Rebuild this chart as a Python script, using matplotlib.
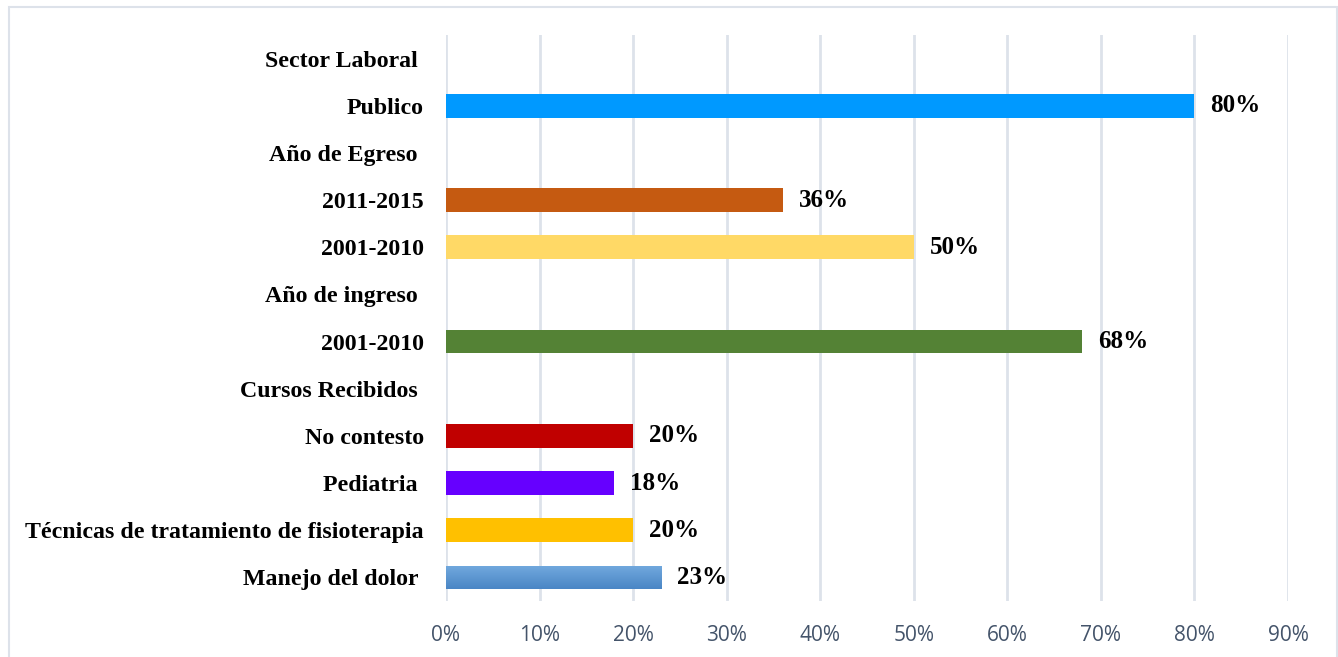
import matplotlib.pyplot as plt
from matplotlib.patches import Rectangle
from matplotlib.colors import LinearSegmentedColormap
import numpy as np

# rows top to bottom
labels = ["Sector Laboral ", "Publico", "Año de Egreso ", "2011-2015", "2001-2010",
          "Año de ingreso ", "2001-2010", "Cursos Recibidos ", "No contesto", "Pediatria ",
          "Técnicas de tratamiento de fisioterapia", "Manejo del dolor "]
values = [None, 0.80, None, 0.36, 0.50, None, 0.68, None, 0.20, 0.18, 0.20, 0.23]
colors = [None, "#0099FF", None, "#C55A11", "#FFD966", None, "#548235", None,
          "#C00000", "#6600FF", "#FFC000", "gradient"]
xticks = [0, 0.1, 0.2, 0.3, 0.4, 0.5, 0.6, 0.7, 0.8, 0.9]

W, H = 1338, 657
fig = plt.figure(figsize=(W / 100, H / 100), dpi=100)
ax = fig.add_axes([446 / W, 1 - 601 / H, (1288 - 446) / W, (601 - 35) / H])

grad = LinearSegmentedColormap.from_list("g", ["#4A86C5", "#72A9DE"])
n = len(labels)
ypos = np.arange(n)[::-1]
for y, v, c in zip(ypos, values, colors):
    if v is None:
        continue
    if c == "gradient":
        bar = ax.barh(y, v, height=0.5, color="none", zorder=3)[0]
        im = ax.imshow(np.linspace(0, 1, 50).reshape(-1, 1), cmap=grad, aspect="auto",
                       origin="lower", extent=(0, v, y - 0.25, y + 0.25), zorder=3)
        im.set_clip_path(bar)
    else:
        ax.barh(y, v, height=0.5, color=c, zorder=3)
    ax.text(v + 0.017, y, f"{v * 100:.0f}%", va="center", ha="left",
            fontsize=18, fontweight="bold", family="Liberation Serif")

ax.set_xlim(0, 0.9)
ax.set_ylim(-0.5, n - 0.5)
ax.set_xticks(xticks)
ax.set_xticklabels([f"{t * 100:.0f}%" for t in xticks], color="#44546A",
                   fontsize=15, family="Open Sans")
ax.set_yticks(ypos)
ax.set_yticklabels(labels, fontsize=17.2, fontweight="bold", family="Liberation Serif")
ax.tick_params(axis="y", length=0, pad=16)
ax.tick_params(axis="x", length=0, pad=17)
ax.grid(axis="x", color="#DDE2EA", linewidth=2, zorder=0)
for s in ax.spines.values():
    s.set_visible(False)

fig.patches.append(Rectangle((8.5 / W, -0.01), (1336.5 - 8.5) / W, 1.01 - 7 / H,
                             transform=fig.transFigure, fill=False,
                             edgecolor="#DDE2EA", linewidth=1.5))

plt.savefig("out.png")
